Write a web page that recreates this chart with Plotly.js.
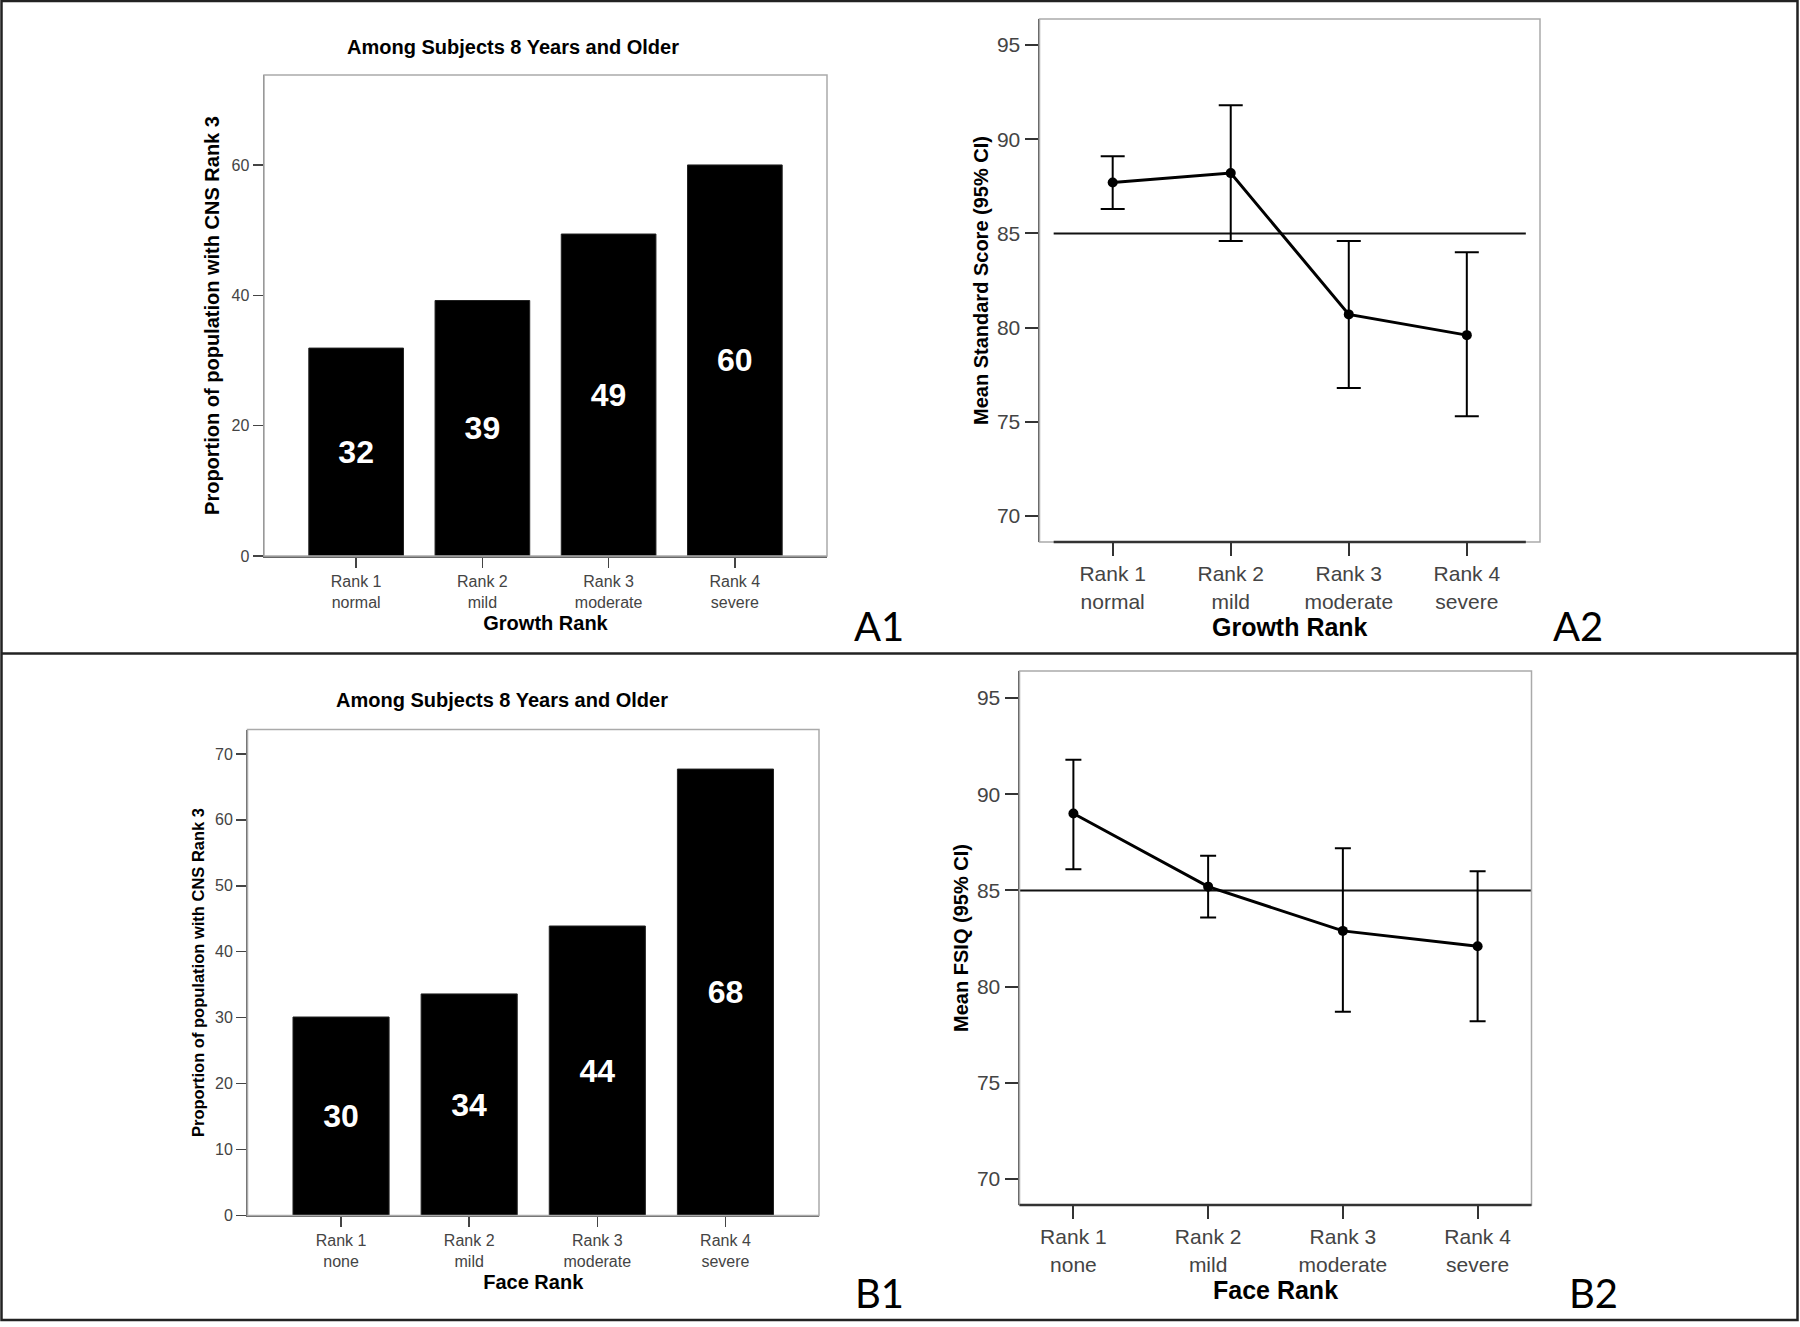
<!DOCTYPE html>
<html>
<head>
<meta charset="utf-8">
<script src="https://cdn.plot.ly/plotly-3.0.1.min.js"></script>
<style>
  body { margin: 0; background: #fff; }
  #fig { width: 1800px; height: 1327px; }
</style>
</head>
<body>
<div id="fig"></div>
<script>
// categories
let growthRanks = ['Rank 1<br>normal', 'Rank 2<br>mild', 'Rank 3<br>moderate', 'Rank 4<br>severe'];
let faceRanks = ['Rank 1<br>none', 'Rank 2<br>mild', 'Rank 3<br>moderate', 'Rank 4<br>severe'];

// A1 / B1 : % with CNS rank 3
let growthCnsPct = [31.9, 39.2, 49.4, 60.0];
let faceCnsPct = [30.1, 33.6, 43.9, 67.7];

// A2 : mean standard score with 95% CI
let growthMean = [87.7, 88.2, 80.7, 79.6];
let growthCiLow = [86.3, 84.6, 76.8, 75.3];
let growthCiHigh = [89.1, 91.8, 84.6, 84.0];

// B2 : mean FSIQ with 95% CI
let faceMean = [89.0, 85.2, 82.9, 82.1];
let faceCiLow = [86.1, 83.6, 78.7, 78.2];
let faceCiHigh = [91.8, 86.8, 87.2, 86.0];

let cutoffScore = 85;
let panelTitle = 'Among Subjects 8 Years and Older';

const W = 1800, H = 1327;
function px(x) { return x / W; }
function py(y) { return 1 - y / H; }

const FONT = 'Liberation Sans, Arial, sans-serif';
const tickGrey = '#444';

function barTrace(cats, vals, xa, ya) {
  return {
    type: 'bar',
    x: cats,
    y: vals,
    xaxis: xa,
    yaxis: ya,
    width: 0.75,
    marker: { color: '#000', line: { color: '#222', width: 1 } },
    text: vals.map(v => String(Math.round(v))),
    textposition: 'inside',
    insidetextanchor: 'middle',
    textangle: 0,
    constraintext: 'none',
    textfont: { family: FONT, size: 32, color: '#fff', weight: 'bold' },
    hoverinfo: 'x+y',
    showlegend: false
  };
}

function meanTrace(cats, mean, lo, hi, xa, ya, capw) {
  return {
    type: 'scatter',
    mode: 'lines+markers',
    x: cats,
    y: mean,
    xaxis: xa,
    yaxis: ya,
    line: { color: '#000', width: 3 },
    marker: { color: '#000', size: 10 },
    error_y: {
      type: 'data',
      symmetric: false,
      array: hi.map((h, i) => h - mean[i]),
      arrayminus: lo.map((l, i) => mean[i] - l),
      color: '#000',
      thickness: 2,
      width: capw
    },
    showlegend: false
  };
}

let data = [
  barTrace(growthRanks, growthCnsPct, 'x', 'y'),
  meanTrace(growthRanks, growthMean, growthCiLow, growthCiHigh, 'x2', 'y2', 12),
  barTrace(faceRanks, faceCnsPct, 'x3', 'y3'),
  meanTrace(faceRanks, faceMean, faceCiLow, faceCiHigh, 'x4', 'y4', 8)
];

function barX(domain, anchor, title) {
  return {
    domain: domain, anchor: anchor, type: 'category',
    range: [-0.73, 3.73], showgrid: false, zeroline: false,
    showline: true, linecolor: '#666', linewidth: 1.5,
    ticks: 'outside', ticklen: 10, tickwidth: 1.5, tickcolor: '#444',
    tickfont: { family: FONT, size: 16, color: tickGrey },
    title: { text: title, standoff: 6, font: { family: FONT, size: 20, color: '#000', weight: 'bold' } },
    fixedrange: true
  };
}
function barY(domain, anchor, range, dtick) {
  return {
    domain: domain, anchor: anchor, range: range, dtick: dtick, tick0: 0,
    showgrid: false, zeroline: false,
    showline: true, linecolor: '#666', linewidth: 1.5,
    ticks: 'outside', ticklen: 10, tickwidth: 1.5, tickcolor: '#444',
    tickfont: { family: FONT, size: 16, color: tickGrey },
    title: { text: 'Proportion of population with CNS Rank 3', standoff: 6,
             font: { family: FONT, size: 20, color: '#000', weight: 'bold' } },
    fixedrange: true
  };
}
function lineX(domain, anchor, range, title) {
  return {
    domain: domain, anchor: anchor, type: 'category',
    range: range, showgrid: false, zeroline: false, showline: false,
    ticks: 'outside', ticklen: 13, tickwidth: 2, tickcolor: '#333',
    tickfont: { family: FONT, size: 21, color: tickGrey },
    title: { text: title, standoff: 6, font: { family: FONT, size: 25, color: '#000', weight: 'bold' } },
    fixedrange: true
  };
}
function lineY(domain, anchor, range, title) {
  return {
    domain: domain, anchor: anchor, range: range, dtick: 5, tick0: 70,
    showgrid: false, zeroline: false,
    showline: true, linecolor: '#555', linewidth: 2,
    ticks: 'outside', ticklen: 13, tickwidth: 2, tickcolor: '#333',
    tickfont: { family: FONT, size: 21, color: tickGrey },
    title: { text: title, standoff: 3, font: { family: FONT, size: 20, color: '#000', weight: 'bold' } },
    fixedrange: true
  };
}

let frame = (xr, yr) => ({
  type: 'rect', xref: xr + ' domain', yref: yr + ' domain',
  x0: 0, x1: 1, y0: 0, y1: 1, line: { color: '#aaa', width: 1.5 }, layer: 'above'
});

let shapes = [
  frame('x', 'y'), frame('x2', 'y2'), frame('x3', 'y3'), frame('x4', 'y4'),
  // A2: axis base and cut-off line
  { type: 'line', xref: 'x2', yref: 'y2 domain', x0: -0.5, x1: 3.5, y0: 0, y1: 0, line: { color: '#333', width: 2.5 } },
  { type: 'line', xref: 'x2', yref: 'y2', x0: -0.5, x1: 3.5, y0: cutoffScore, y1: cutoffScore, line: { color: '#111', width: 2 }, layer: 'below' },
  // B2: axis base and cut-off line
  { type: 'line', xref: 'x4 domain', yref: 'y4 domain', x0: 0, x1: 1, y0: 0, y1: 0, line: { color: '#333', width: 2.5 } },
  { type: 'line', xref: 'x4 domain', yref: 'y4', x0: 0, x1: 1, y0: cutoffScore, y1: cutoffScore, line: { color: '#111', width: 2 }, layer: 'below' },
  // panel borders
  { type: 'rect', xref: 'paper', yref: 'paper', x0: px(1.5), x1: px(1797.5), y0: py(1320), y1: py(1), line: { color: '#222', width: 2.5 } },
  { type: 'line', xref: 'paper', yref: 'paper', x0: px(1.5), x1: px(1797.5), y0: py(653.5), y1: py(653.5), line: { color: '#222', width: 2.5 } }
];

let annFont = { family: 'Lato, Open Sans, sans-serif', size: 40, color: '#000' };
let annotations = [
  { text: panelTitle, xref: 'paper', yref: 'paper', x: px(513), y: py(47), xanchor: 'center', yanchor: 'middle', showarrow: false,
    font: { family: FONT, size: 20, color: '#000', weight: 'bold' } },
  { text: panelTitle, xref: 'paper', yref: 'paper', x: px(502), y: py(700), xanchor: 'center', yanchor: 'middle', showarrow: false,
    font: { family: FONT, size: 20, color: '#000', weight: 'bold' } },
  { text: 'A1', xref: 'paper', yref: 'paper', x: px(852), y: py(626), xanchor: 'left', yanchor: 'middle', showarrow: false, font: annFont },
  { text: 'A2', xref: 'paper', yref: 'paper', x: px(1551), y: py(626), xanchor: 'left', yanchor: 'middle', showarrow: false, font: annFont },
  { text: 'B1', xref: 'paper', yref: 'paper', x: px(853), y: py(1293), xanchor: 'left', yanchor: 'middle', showarrow: false, font: annFont },
  { text: 'B2', xref: 'paper', yref: 'paper', x: px(1567), y: py(1293), xanchor: 'left', yanchor: 'middle', showarrow: false, font: annFont }
];

let layout = {
  width: W, height: H,
  margin: { l: 0, r: 0, t: 0, b: 0 },
  paper_bgcolor: '#fff', plot_bgcolor: '#fff',
  font: { family: FONT, color: '#000' },
  bargap: 0.25,
  xaxis: barX([px(264), px(827)], 'y', 'Growth Rank'),
  yaxis: barY([py(556), py(75)], 'x', [0, 73.8], 20),
  xaxis2: lineX([px(1039.5), px(1540)], 'y2', [-0.62, 3.62], 'Growth Rank'),
  yaxis2: lineY([py(542), py(19)], 'x2', [68.62, 96.38], 'Mean Standard Score (95% CI)'),
  xaxis3: barX([px(247.5), px(819)], 'y3', 'Face Rank'),
  yaxis3: barY([py(1215.5), py(729.5)], 'x3', [0, 73.7], 10),
  xaxis4: lineX([px(1019.5), px(1531.5)], 'y4', [-0.4, 3.4], 'Face Rank'),
  yaxis4: lineY([py(1205), py(671)], 'x4', [68.65, 96.41], 'Mean FSIQ (95% CI)'),
  shapes: shapes,
  annotations: annotations
};
layout.yaxis3.title.font.size = 16.5;

Plotly.newPlot('fig', data, layout, { displayModeBar: false, staticPlot: true });
</script>
</body>
</html>
